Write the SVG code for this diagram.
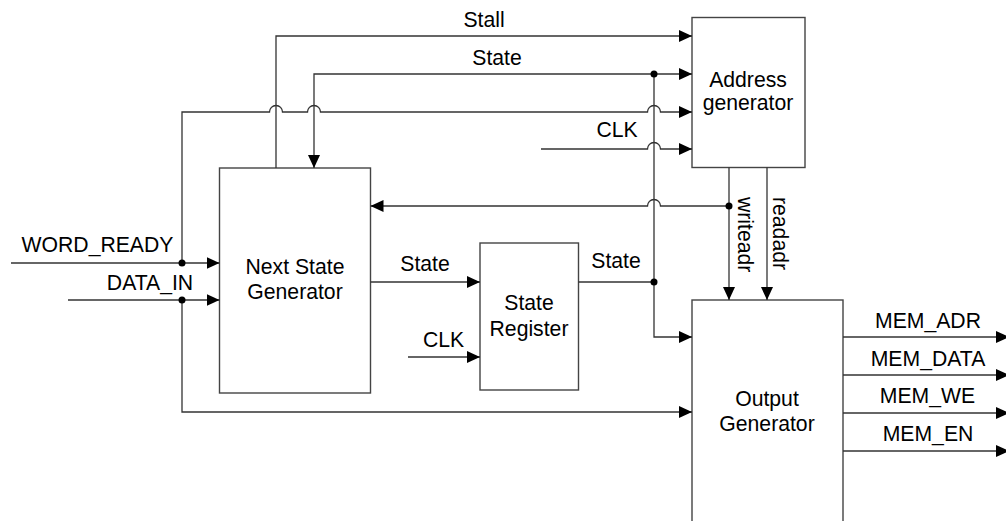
<svg xmlns="http://www.w3.org/2000/svg" width="1006" height="521" viewBox="0 0 1006 521">
  <defs>
    <marker id="arrow" viewBox="0 0 13 12" refX="13" refY="6" markerWidth="13" markerHeight="12" markerUnits="userSpaceOnUse" orient="auto">
      <path d="M0,0 L13,6 L0,12 z" fill="#000"/>
    </marker>
    <style>
      .box { fill: #fff; stroke: #444; stroke-width: 1.4; }
      .wire { fill: none; stroke: #333; stroke-width: 1.3; }
      .arr { marker-end: url(#arrow); }
      .dot { fill: #000; }
      text { font-family: "Liberation Sans", Arial, sans-serif; font-size: 21.2px; fill: #000; }
      .mid { text-anchor: middle; }
    </style>
  </defs>
  <rect width="1006" height="521" fill="#fff"/>

  <!-- blocks -->
  <g id="next-state-generator">
    <rect class="box" x="219.5" y="168" width="151" height="225"/>
    <text class="mid" x="295" y="274">Next State</text>
    <text class="mid" x="295" y="299">Generator</text>
  </g>
  <g id="state-register">
    <rect class="box" x="480" y="243" width="98.5" height="147"/>
    <text class="mid" x="529" y="310">State</text>
    <text class="mid" x="529" y="336">Register</text>
  </g>
  <g id="address-generator">
    <rect class="box" x="692" y="17.5" width="113" height="150"/>
    <text class="mid" x="748" y="87">Address</text>
    <text class="mid" x="748" y="110">generator</text>
  </g>
  <g id="output-generator">
    <rect class="box" x="692" y="300" width="151" height="240"/>
    <text class="mid" x="767" y="406">Output</text>
    <text class="mid" x="767" y="431">Generator</text>
  </g>

  <!-- signal wiring -->
  <g id="connectors">
    <!-- Stall: next state generator to address generator -->
    <path class="wire arr" d="M276,168 V36 H692"/>
    <!-- State feedback bus -->
    <path class="wire arr" d="M654,74 H314 V168"/>
    <path class="wire arr" d="M654,74 H692"/>
    <path class="wire" d="M578.5,282 H654"/>
    <path class="wire arr" d="M654,74 V337 H692"/>
    <!-- WORD_READY -->
    <path class="wire arr" d="M11,263 H219.5"/>
    <path class="wire arr" d="M182,263 V112 H269.5 A6.5,6.5 0 0 1 282.5,112 H307.5 A6.5,6.5 0 0 1 320.5,112 H647.5 A6.5,6.5 0 0 1 660.5,112 H692"/>
    <!-- DATA_IN -->
    <path class="wire arr" d="M68,300 H219.5"/>
    <path class="wire arr" d="M182,300 V412 H692"/>
    <!-- CLK to address generator -->
    <path class="wire arr" d="M541,149 H647.5 A6.5,6.5 0 0 1 660.5,149 H692"/>
    <!-- writeadr / readadr -->
    <path class="wire arr" d="M729,167.5 V300"/>
    <path class="wire arr" d="M767,167.5 V300"/>
    <path class="wire arr" d="M729,206 H660.5 A6.5,6.5 0 0 0 647.5,206 H370.5"/>
    <!-- next state into state register, clock -->
    <path class="wire arr" d="M370.5,282 H480"/>
    <path class="wire arr" d="M408,357 H480"/>
    <!-- memory interface outputs -->
    <path class="wire arr" d="M843,337 H1009"/>
    <path class="wire arr" d="M843,375 H1009"/>
    <path class="wire arr" d="M843,413 H1009"/>
    <path class="wire arr" d="M843,451 H1009"/>
    <!-- junctions -->
    <circle class="dot" cx="654" cy="74" r="3.5"/>
    <circle class="dot" cx="654" cy="282" r="3.5"/>
    <circle class="dot" cx="182" cy="263" r="3.5"/>
    <circle class="dot" cx="182" cy="300" r="3.5"/>
    <circle class="dot" cx="729" cy="206" r="3.5"/>
  </g>

  <!-- signal labels -->
  <g id="labels">
    <text class="mid" x="484" y="27">Stall</text>
    <text class="mid" x="497" y="65">State</text>
    <text class="mid" x="617" y="137">CLK</text>
    <text class="mid" x="97.5" y="252">WORD_READY</text>
    <text class="mid" x="150" y="290">DATA_IN</text>
    <text class="mid" x="425" y="271">State</text>
    <text class="mid" x="443.5" y="347">CLK</text>
    <text class="mid" x="616" y="268">State</text>
    <text x="0" y="0" transform="translate(738,197) rotate(90)">writeadr</text>
    <text x="0" y="0" transform="translate(773,197) rotate(90)">readadr</text>
    <text class="mid" x="928" y="328">MEM_ADR</text>
    <text class="mid" x="928" y="366">MEM_DATA</text>
    <text class="mid" x="927.5" y="403">MEM_WE</text>
    <text class="mid" x="928" y="441">MEM_EN</text>
  </g>
</svg>
